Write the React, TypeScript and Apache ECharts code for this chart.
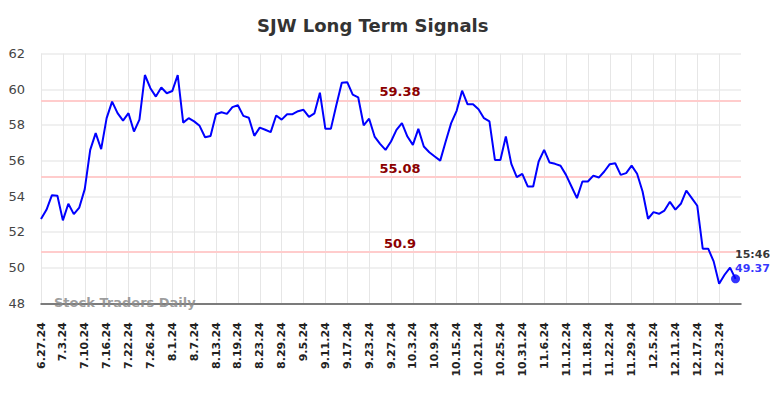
import React, { useEffect, useRef } from "react";
import * as echarts from "echarts";

const dates: string[] = [
  "6.27.24","6.28.24","7.1.24","7.2.24","7.3.24","7.5.24","7.8.24","7.9.24","7.10.24","7.11.24",
  "7.12.24","7.15.24","7.16.24","7.17.24","7.18.24","7.19.24","7.22.24","7.23.24","7.24.24","7.25.24",
  "7.26.24","7.29.24","7.30.24","7.31.24","8.1.24","8.2.24","8.5.24","8.6.24","8.7.24","8.8.24",
  "8.9.24","8.12.24","8.13.24","8.14.24","8.15.24","8.16.24","8.19.24","8.20.24","8.21.24","8.22.24",
  "8.23.24","8.26.24","8.27.24","8.28.24","8.29.24","8.30.24","9.3.24","9.4.24","9.5.24","9.6.24",
  "9.9.24","9.10.24","9.11.24","9.12.24","9.13.24","9.16.24","9.17.24","9.18.24","9.19.24","9.20.24",
  "9.23.24","9.24.24","9.25.24","9.26.24","9.27.24","9.30.24","10.1.24","10.2.24","10.3.24","10.4.24",
  "10.7.24","10.8.24","10.9.24","10.10.24","10.11.24","10.14.24","10.15.24","10.16.24","10.17.24","10.18.24",
  "10.21.24","10.22.24","10.23.24","10.24.24","10.25.24","10.28.24","10.29.24","10.30.24","10.31.24","11.1.24",
  "11.4.24","11.5.24","11.6.24","11.7.24","11.8.24","11.11.24","11.12.24","11.13.24","11.14.24","11.15.24",
  "11.18.24","11.19.24","11.20.24","11.21.24","11.22.24","11.25.24","11.26.24","11.27.24","11.29.24","12.2.24",
  "12.3.24","12.4.24","12.5.24","12.6.24","12.9.24","12.10.24","12.11.24","12.12.24","12.13.24","12.16.24",
  "12.17.24","12.18.24","12.19.24","12.20.24","12.23.24","12.24.24","12.26.24","12.27.24",
];

const prices: number[] = [
  52.72, 53.24, 54.06, 54.03, 52.65, 53.58, 53.0, 53.37, 54.4, 56.6,
  57.54, 56.64, 58.38, 59.31, 58.66, 58.24, 58.66, 57.63, 58.3, 60.8,
  60.06, 59.59, 60.1, 59.78, 59.9, 60.8, 58.13, 58.38, 58.2, 57.95,
  57.31, 57.38, 58.6, 58.71, 58.62, 59.0, 59.1, 58.51, 58.4, 57.39,
  57.85, 57.73, 57.6, 58.53, 58.3, 58.6, 58.6, 58.77, 58.85, 58.45,
  58.65, 59.81, 57.78, 57.78, 59.1, 60.37, 60.4, 59.7, 59.55, 57.98,
  58.35, 57.35, 56.94, 56.6, 57.07, 57.72, 58.1, 57.35, 56.88, 57.78,
  56.79, 56.47, 56.23, 56.0, 57.07, 58.1, 58.79, 59.92, 59.16, 59.16,
  58.88, 58.38, 58.2, 56.04, 56.04, 57.35, 55.82, 55.07, 55.26, 54.55,
  54.55, 55.95, 56.6, 55.89, 55.82, 55.71, 55.2, 54.55, 53.9, 54.83,
  54.83, 55.16, 55.05, 55.39, 55.8, 55.85, 55.2, 55.3, 55.72, 55.26,
  54.27, 52.74, 53.11, 53.02, 53.2, 53.69, 53.25, 53.58, 54.32, 53.9,
  53.47, 51.06, 51.06, 50.35, 49.1, 49.6, 50.0, 49.37,
];

const signals: number[] = [59.38, 55.08, 50.9];
const lastTime = "15:46";
const yMin = 48;
const yMax = 62;
const yStep = 2;
const labelEvery = 4;

const FONT = "DejaVu Sans";

export default function App() {
  const ref = useRef<HTMLDivElement>(null);

  useEffect(() => {
    if (!ref.current) return;
    const chart = echarts.init(ref.current, undefined, { renderer: "svg" });
    const categories = [...dates, ""];
    const lastIdx = prices.length - 1;
    const showIdx = (i: number) => i % labelEvery === 0 && i < dates.length;

    chart.setOption({
      animation: false,
      backgroundColor: "#ffffff",
      title: {
        text: "SJW Long Term Signals",
        left: 257,
        top: 16,
        padding: 0,
        textStyle: { fontFamily: FONT, fontSize: 18, fontWeight: "bold", color: "#333333" },
      },
      grid: { left: 41, right: 43, top: 53.6, bottom: 94.7, containLabel: false },
      xAxis: {
        type: "category",
        data: categories,
        boundaryGap: false,
        axisLine: { show: true, lineStyle: { color: "#555555", width: 1.5 } },
        axisTick: { show: false },
        axisLabel: {
          interval: (i: number) => showIdx(i),
          rotate: 90,
          margin: 19,
          fontFamily: FONT,
          fontSize: 11,
          fontWeight: "bold",
          color: "#222222",
        },
        splitLine: {
          show: true,
          interval: (i: number) => showIdx(i),
          lineStyle: { color: "#e6e6e6", width: 1 },
        },
      },
      yAxis: {
        type: "value",
        min: yMin,
        max: yMax,
        interval: yStep,
        axisLine: { show: false },
        axisTick: { show: false },
        axisLabel: { margin: 16, fontFamily: FONT, fontSize: 13, color: "#444444" },
        splitLine: { show: true, lineStyle: { color: "#ebebeb", width: 1.5 } },
      },
      graphic: [
        {
          type: "text",
          left: 54,
          top: 296,
          z: 10,
          style: {
            text: "Stock Traders Daily",
            font: `bold 13px "${FONT}"`,
            fill: "rgba(140,140,140,0.85)",
          },
        },
      ],
      series: [
        {
          type: "line",
          data: prices,
          symbol: "none",
          lineStyle: { color: "#0000ff", width: 2 },
          z: 3,
          markLine: {
            silent: true,
            symbol: "none",
            lineStyle: { color: "#ffcccc", width: 2, type: "solid" },
            label: {
              show: true,
              position: "insideMiddleTop",
              distance: 2,
              padding: [0, 0, 0, 18],
              formatter: (p: any) => String(p.value),
              fontFamily: FONT,
              fontSize: 13,
              fontWeight: "bold",
              color: "#8b0000",
            },
            data: signals.map((s) => ({ yAxis: s })),
            z: 2,
          },
        },
        {
          type: "scatter",
          data: [[lastIdx, prices[lastIdx]]],
          symbol: "circle",
          symbolSize: 9,
          itemStyle: { color: "#0000ff" },
          z: 4,
          label: {
            show: true,
            position: [4, -27],
            align: "left",
            verticalAlign: "top",
            formatter: () => `{t|${lastTime}}\n{v|${prices[lastIdx].toFixed(2)}}`,
            rich: {
              t: { fontFamily: FONT, fontSize: 11, fontWeight: "bold", color: "#000000", lineHeight: 14 },
              v: { fontFamily: FONT, fontSize: 11, fontWeight: "bold", color: "#0000ff", lineHeight: 14 },
            },
          },
        },
      ],
    });

    return () => chart.dispose();
  }, []);

  return (
    <div
      ref={ref}
      style={{ position: "fixed", left: 0, top: 0, width: 784, height: 398 }}
    />
  );
}
